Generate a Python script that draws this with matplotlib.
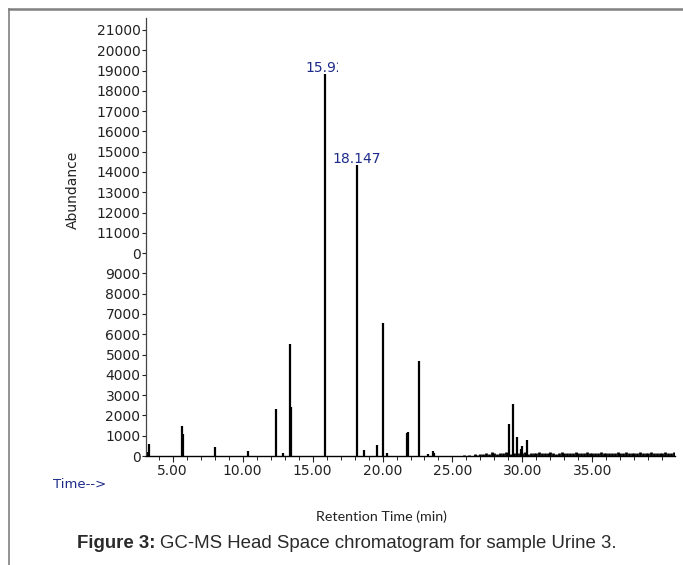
import numpy as np
import matplotlib
matplotlib.use('Agg')
import matplotlib.pyplot as plt
from matplotlib.lines import Line2D
from matplotlib.transforms import Bbox, TransformedBbox
from matplotlib.ticker import MultipleLocator

# main peaks (time in min, abundance)
peak_times = [3.14, 3.28, 5.69, 5.72, 8.0, 10.41, 12.36, 12.9, 13.41, 13.45,
              15.92, 18.147, 18.71, 19.64, 20.07, 20.29, 21.76, 21.8, 22.64,
              23.26, 23.64, 23.71, 29.07, 29.34, 29.59, 29.9, 29.98, 30.36]
peak_heights = [200, 580, 1480, 1100, 460, 250, 2330, 150, 5520, 2400,
                18830, 14340, 310, 560, 6570, 170, 1150, 1200, 4700,
                100, 250, 150, 1580, 2560, 930, 350, 490, 790]

# baseline noise after ~26 min, one value every 0.2 min
noise_start = 25.8
noise_step = 0.2
noise_heights = [60, 0, 70, 0, 90, 50, 110, 80, 150, 120, 180, 140, 110, 160, 130,
                 200, 150, 120, 170, 140, 160, 130, 190, 120, 150, 170, 140, 220,
                 160, 130, 150, 180, 140, 120, 160, 190, 150, 130, 170, 140, 200,
                 160, 130, 150, 180, 140, 170, 130, 160, 190, 150, 140, 170, 130,
                 160, 180, 150, 140, 200, 160, 130, 170, 150, 180, 140, 160, 130,
                 190, 150, 170, 140, 160, 180, 150, 170, 190]

labelled_peaks = [15.92, 18.147]
labelled_heights = [18830, 14340]
labelled_text = ['15.92', '18.147']

y_ticks = list(range(0, 22000, 1000))
y_ticklabels = [str(v) for v in y_ticks]
y_ticklabels[10] = '0'   # the 10000 label is cut off in the original
x_ticks = [5, 10, 15, 20, 25, 30, 35]
x_ticklabels = ['%.2f' % v for v in x_ticks]

W, H = 683, 565
fig = plt.figure(figsize=(W / 100, H / 100), dpi=100)
fig.patch.set_facecolor('white')
ax = fig.add_axes([146 / W, 1 - 456 / H, (675 - 146) / W, (456 - 18) / H])

noise_times = [noise_start + i * noise_step for i in range(len(noise_heights))]
ax.vlines(noise_times, 0, noise_heights, color='black', lw=2.0)
ax.vlines(peak_times, 0, peak_heights, color='black', lw=1.6)

ax.set_xlim(3.1, 40.9)
ax.set_ylim(0, 21590)

for side in ['top', 'right']:
    ax.spines[side].set_visible(False)
ax.spines['bottom'].set_linewidth(1.0)
ax.spines['left'].set_linewidth(0.9)
ax.spines['left'].set_color('#444444')
ax.spines['left'].set_linestyle((0, (1.5, 1)))

ax.set_yticks(y_ticks)
ax.set_yticklabels(y_ticklabels)
ax.set_xticks(x_ticks)
ax.set_xticklabels(x_ticklabels)
ax.xaxis.set_minor_locator(MultipleLocator(1))
ax.tick_params(axis='y', direction='out', length=3, width=0.8, pad=1,
               labelsize=10, colors='#222222')
ax.tick_params(axis='x', which='major', direction='out', length=4, width=0.8,
               pad=2, labelsize=10, colors='#222222')
ax.tick_params(axis='x', which='minor', direction='out', length=3, width=0.6)

# peak retention time labels (first one is clipped, as in the original)
clip = TransformedBbox(Bbox([[0, 0], [338 / W, 1]]), fig.transFigure)
for t, h, s in zip(labelled_peaks, labelled_heights, labelled_text):
    txt = ax.annotate(s, (t, h), xytext=(0, 1.5), textcoords='offset points',
                      ha='center', va='baseline', fontsize=10, color='#1c2a8a')
    if s == '15.92':
        txt.set_clip_box(clip)
        txt.set_clip_on(True)

fig.text(73 / W, 1 - 190 / H, 'Abundance', rotation=90, ha='center', va='center',
         fontsize=10, color='#222222')
fig.text(53 / W, 1 - 484 / H, 'Time-->', ha='left', va='center', fontsize=9.5,
         color='#1c2a8a')
fig.text(381 / W, 1 - 517 / H, 'Retention Time (min)', ha='center', va='center',
         fontsize=10.3, family='Lato', color='#222222')

# caption with bold prefix
renderer = fig.canvas.get_renderer()
cap1 = fig.text(77 / W, 1 - 543 / H, 'Figure 3:', ha='left', va='center',
                fontsize=13.4, fontweight='bold', family='Liberation Sans',
                color='#2a2a2a')
bb = cap1.get_window_extent(renderer)
fig.text((bb.x1 + 4) / W, 1 - 543 / H,
         'GC-MS Head Space chromatogram for sample Urine 3.', ha='left',
         va='center', fontsize=13.4, family='Liberation Sans', color='#2a2a2a')

# page frame lines
fig.add_artist(Line2D([9 / W, 682 / W], [1 - 9 / H, 1 - 9 / H],
                      color='#808080', lw=1.8, transform=fig.transFigure))
fig.add_artist(Line2D([9 / W, 9 / W], [1 - 9 / H, 0], color='#808080', lw=1.2,
                      transform=fig.transFigure))

fig.savefig('out.png', dpi=100)
